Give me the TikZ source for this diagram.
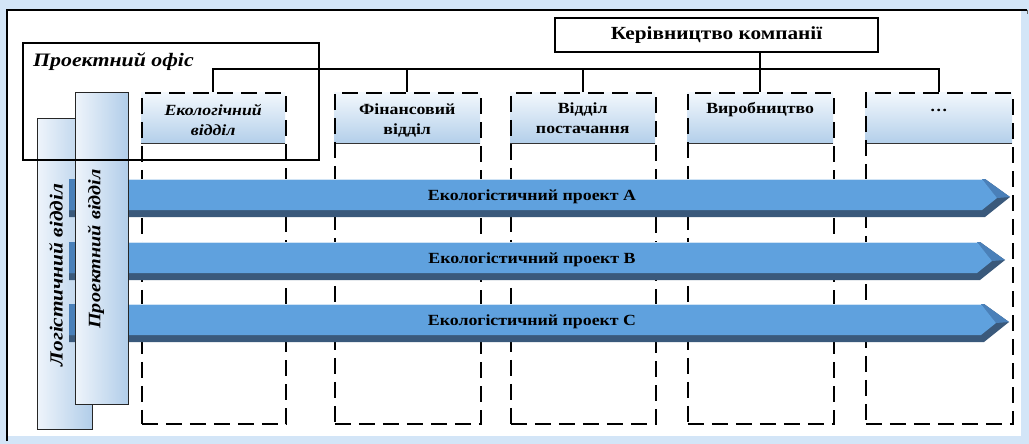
\documentclass[tikz,border=0pt]{standalone}
\usepackage{fontspec}
\setmainfont{Liberation Serif}[FakeStretch=1.15]
\usetikzlibrary{calc}

\definecolor{glow}{HTML}{D3E5F7}
\definecolor{hdrtop}{HTML}{F3F8FD}
\definecolor{hdrbot}{HTML}{B3CFEA}
\definecolor{sideL}{HTML}{EEF4FB}
\definecolor{sideR}{HTML}{B1CDE9}
\definecolor{barfront}{HTML}{5FA1DE}
\definecolor{bardark}{HTML}{3A597B}
\definecolor{barbevel}{HTML}{4A80B9}

\tikzset{
  conn/.style={line width=1.8pt, black},
  solidbox/.style={draw=black, line width=1.8pt, inner sep=0pt},
  colbox/.style={draw=black, line width=1.7pt, dash pattern=on 16pt off 8pt, inner sep=0pt},
  hdrfill/.style={top color=hdrtop, bottom color=hdrbot, inner sep=0pt},
  hdrtext/.style={align=center, inner sep=0pt, font=\bfseries\fontsize{15.5}{20}\selectfont},
  sidebox/.style={draw=black!85, line width=0.9pt, left color=sideL, right color=sideR, inner sep=0pt},
  sidetext/.style={inner sep=0pt, rotate=90, font=\bfseries\itshape\fontsize{17.5}{20}\selectfont},
  bartext/.style={inner sep=0pt, font=\bfseries\fontsize{15.5}{18}\selectfont}
}

\begin{document}
\begin{tikzpicture}[x=1pt, y=-1pt]
\useasboundingbox (0,0) rectangle (1029,444);

% page frame
\fill[glow] (0,0) rectangle (1029,444);
\fill[white] (7,10) rectangle (1021,436);
\draw[black, line width=1.3pt] (7,441) -- (7,10) -- (1027,10);
\draw[black!60, line width=0.8pt] (1027,10) -- (1027,14);

% department columns with their header bands
\foreach \i/\x/\w in {1/141/144, 2/334/146, 3/510/145, 4/687/146, 5/865/147} {
  \node[hdrfill, anchor=north west, minimum width=\w pt, minimum height=51pt] (h\i) at (\x,92) {};
  \draw[black!80, line width=0.8pt] (h\i.south west) -- (h\i.south east);
  \node[colbox, anchor=north west, minimum width=\w pt, minimum height=331pt] (c\i) at (\x,92) {};
}
\node[hdrtext, anchor=north] (t1) at ([yshift=-12pt]h1.north) {\itshape Екологічний\\\itshape відділ};
\node[hdrtext, anchor=north] (t2) at ([yshift=-12pt]h2.north) {Фінансовий\\відділ};
\node[hdrtext, anchor=north] (t3) at ([yshift=-10.5pt]h3.north) {Відділ\\постачання};
\node[hdrtext, anchor=north] (t4) at ([yshift=-10pt]h4.north) {Виробництво};
\node[hdrtext, anchor=base] (t5) at ([yshift=-19pt]h5.north) {…};

% company management and the reporting lines
\node[solidbox, minimum width=323pt, minimum height=34pt,
      font=\bfseries\fontsize{18.5}{22}\selectfont] (mg) at (716.5,35) {Керівництво компанії};
\coordinate (bus) at (0,69);
\draw[conn] (h1.north) -- (h1.north |- bus) -- (h5.north |- bus) -- (h5.north);
\draw[conn] (h2.north) -- (h2.north |- bus);
\draw[conn] (h3.north) -- (h3.north |- bus);
\draw[conn] (mg.south -| h4.north) -- (h4.north);

% logistics department (behind the projects)
\node[sidebox, anchor=north west, minimum width=55pt, minimum height=311pt] (lv) at (37,118) {};
\node[sidetext, font=\bfseries\itshape\fontsize{18.5}{20}\selectfont] (lvt) at (56,275) {Логістичний відділ};

% project arrows
\foreach \n/\t/\tip in {A/179/1010, B/242/1005, C/304/1009} {
  \pgfmathsetmacro{\e}{\tip-25}
  \pgfmathsetmacro{\m}{\t+18}
  \pgfmathsetmacro{\f}{\t+31}
  \pgfmathsetmacro{\b}{\t+38}
  \pgfmathsetmacro{\ix}{\tip-13}
  \pgfmathsetmacro{\iy}{\t+19}
  \pgfmathsetmacro{\ey}{\e-3}
  \pgfmathsetmacro{\c}{\t+17.5}
  \fill[bardark] (69,\t) -- (\e,\t) -- (\tip,\m) -- (\e,\b) -- (69,\b) -- cycle;
  \fill[barbevel] (\ey,\t) -- (\e,\t) -- (\tip,\m) -- (\ix,\iy) -- cycle;
  \fill[barfront] (69,\t) -- (\ey,\t) -- (\ix,\iy) -- (\ey,\f) -- (69,\f) -- cycle;
  \fill[barbevel] (69,\t) rectangle (75,\f);
  \draw[white!70!barfront, line width=0.6pt] (75,\t+0.5) -- (\ey,\t+0.5);
  \node[bartext] (p\n) at (532,\c) {Екологістичний проект \n};
}

% project department (in front of the projects)
\node[sidebox, anchor=north west, minimum width=53pt, minimum height=312pt] (pv) at (75,92) {};
\node[sidetext] (pvt) at (96,249) {Проектний відділ};

% project office outline
\node[solidbox, anchor=north west, minimum width=296pt, minimum height=117pt] (po) at (22,42) {};
\node[anchor=west, inner sep=0pt, font=\bfseries\itshape\fontsize{19}{22}\selectfont] (pot) at (33,62) {Проектний офіс};

\end{tikzpicture}
\end{document}
